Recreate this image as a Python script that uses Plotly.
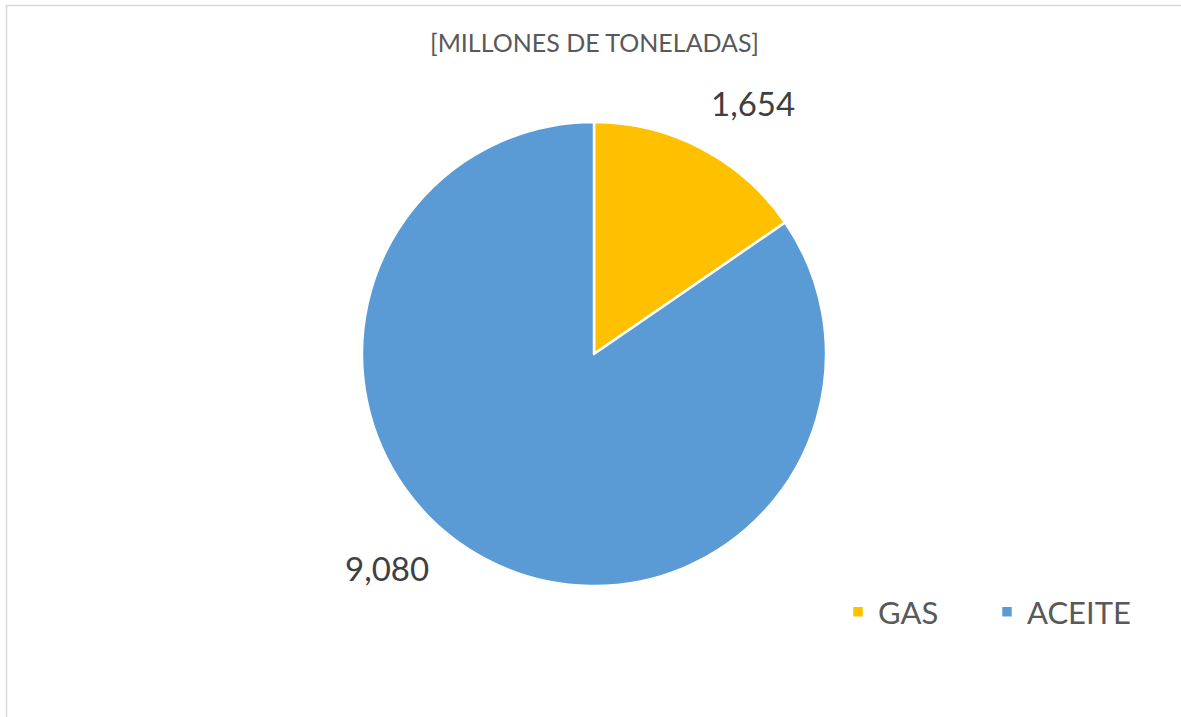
import plotly.graph_objects as go

# Production split, millions of tonnes
categories = ["GAS", "ACEITE"]
values = [1654, 9080]
colors = ["#FFC000", "#5B9BD5"]
title_text = "[MILLONES DE TONELADAS]"

W, H = 1181, 717
FONT = "Lato"

fig = go.Figure(
    go.Pie(
        labels=categories,
        values=values,
        sort=False,
        direction="clockwise",
        rotation=0,
        marker=dict(colors=colors, line=dict(color="white", width=2.5)),
        textinfo="none",
        hoverinfo="label+value",
        domain=dict(x=[362 / W, 826 / W], y=[1 - 586 / H, 1 - 122 / H]),
    )
)

# Value labels placed outside each slice
label_pos = [(753 / W, 1 - 103 / H), (387 / W, 1 - 568 / H)]
annotations = [
    dict(
        x=px, y=py, xref="paper", yref="paper",
        text=f"{v:,}", showarrow=False,
        font=dict(family=FONT, size=33, color="#404040"),
        xanchor="center", yanchor="middle",
    )
    for v, (px, py) in zip(values, label_pos)
]
annotations.append(
    dict(
        x=594 / W, y=1 - 42 / H, xref="paper", yref="paper",
        text=title_text, showarrow=False,
        font=dict(family=FONT, size=25, color="#595959"),
        xanchor="center", yanchor="middle",
    )
)

fig.update_layout(
    width=W,
    height=H,
    margin=dict(l=0, r=0, t=0, b=0),
    paper_bgcolor="white",
    plot_bgcolor="white",
    annotations=annotations,
    showlegend=True,
    legend=dict(
        orientation="h",
        x=838 / W, y=1 - 612 / H,
        xanchor="left", yanchor="middle",
        font=dict(family=FONT, size=31, color="#595959"),
        itemclick=False,
        entrywidth=104,
        entrywidthmode="pixels",
        bgcolor="rgba(0,0,0,0)",
    ),
    shapes=[
        dict(
            type="rect", xref="paper", yref="paper",
            x0=6.5 / W, x1=1.03, y0=-0.03, y1=1 - 5.5 / H,
            line=dict(color="#D9D9D9", width=1.5),
            fillcolor="rgba(0,0,0,0)",
            layer="below",
        )
    ],
)

fig.write_html("out.html")
